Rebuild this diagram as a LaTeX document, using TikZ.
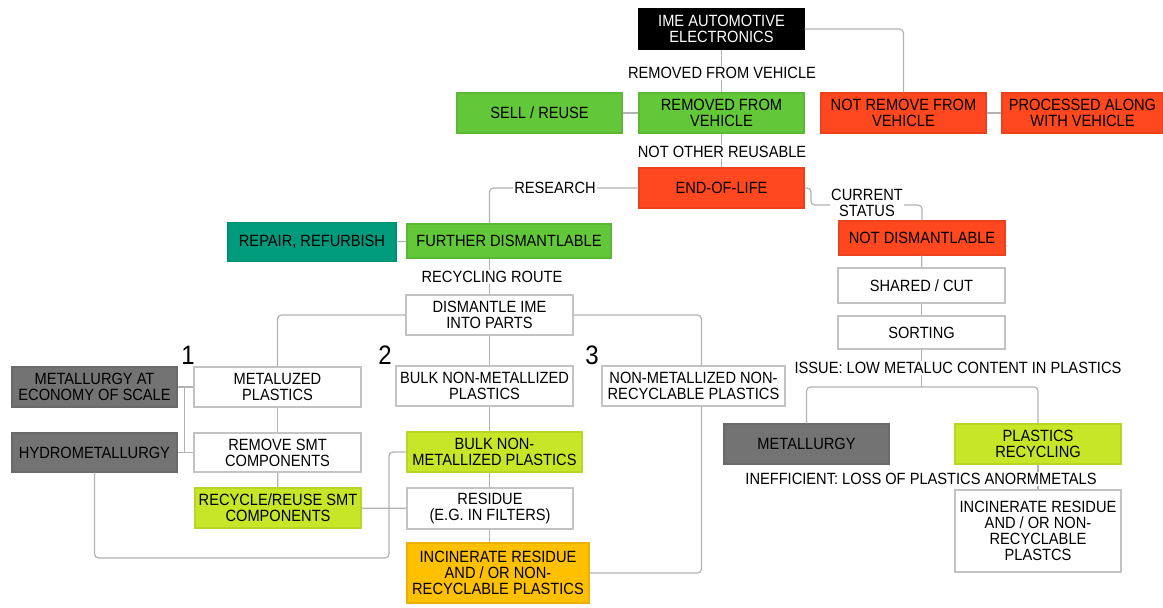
\documentclass[tikz,border=0pt]{standalone}
\usepackage{fontspec}
\setmainfont{Liberation Sans}[FakeStretch=0.9]
\usepackage{tikz}
\usepackage{xcolor}
\usetikzlibrary{positioning}
\definecolor{leaf}{RGB}{98,200,58}
\definecolor{flame}{RGB}{255,72,32}
\definecolor{teal}{RGB}{0,155,125}
\definecolor{slate}{RGB}{115,115,115}
\definecolor{lime}{RGB}{200,230,40}
\definecolor{amber}{RGB}{255,192,0}
\definecolor{wire}{RGB}{178,178,178}
\definecolor{rim}{RGB}{195,195,195}

\tikzset{
  box/.style={draw=rim, line width=0.8pt, fill=white, align=center, inner sep=1pt,
    font=\fontsize{12.2}{12}\selectfont},
  sz/.style 2 args={minimum width=#1*0.75pt, minimum height=#2*0.75pt},
  link/.style={draw=wire, line width=0.9pt, rounded corners=3pt},
  tag/.style={fill=white, inner sep=1pt, align=center, font=\fontsize{12.2}{12}\selectfont},
  num/.style={inner sep=0pt, font=\fontsize{20}{20}\selectfont}
}

\begin{document}
\begin{tikzpicture}[x=0.75pt, y=-0.75pt]
\useasboundingbox (0,0) rectangle (1163,607);

% top of the tree
\node[box, sz={165}{40}, fill=black, draw=black, text=white] (ime) at (721.5,29) {IME AUTOMOTIVE\\ELECTRONICS};
\node[box, sz={165}{40}, fill=leaf, draw=leaf!92!black] (sell) at (539.5,113) {SELL / REUSE};
\node[box, sz={165}{40}, fill=leaf, draw=leaf!92!black] (removed) at (721.5,113) {REMOVED FROM\\VEHICLE};
\node[box, sz={165}{40}, fill=flame, draw=flame!92!black] (notremove) at (903.5,113) {NOT REMOVE FROM\\VEHICLE};
\node[box, sz={161}{40}, fill=flame, draw=flame!92!black] (processed) at (1082.5,113) {PROCESSED ALONG\\WITH VEHICLE};
\node[box, sz={165}{40}, fill=flame, draw=flame!92!black] (eol) at (721.5,188) {END-OF-LIFE};

% research branch
\node[box, sz={168}{39}, fill=teal, draw=teal!92!black] (repair) at (312,242) {REPAIR, REFURBISH};
\node[box, sz={204}{34}, fill=leaf, draw=leaf!92!black] (further) at (509,241) {FURTHER DISMANTLABLE};
\node[box, sz={167}{40}] (dismantle) at (489.5,315) {DISMANTLE IME\\INTO PARTS};

\node[box, sz={165}{40}, fill=slate, draw=slate!92!black] (econ) at (94.5,387) {METALLURGY AT\\ECONOMY OF SCALE};
\node[box, sz={167}{40}] (metaluzed) at (277.5,387) {METALUZED\\PLASTICS};
\node[box, sz={177}{40}] (bulk) at (484.5,386) {BULK NON-METALLIZED\\PLASTICS};
\node[box, sz={183}{40}] (nonrec) at (693.5,386) {NON-METALLIZED NON-\\RECYCLABLE PLASTICS};
\node[box, sz={165}{39}, fill=slate, draw=slate!92!black] (hydro) at (94.5,452.5) {HYDROMETALLURGY};
\node[box, sz={167}{39}] (removesmt) at (277.5,452.5) {REMOVE SMT\\COMPONENTS};
\node[box, sz={175}{40}, fill=lime, draw=lime!92!black] (bulkg) at (494.5,452) {BULK NON-\\METALLIZED PLASTICS};
\node[box, sz={166}{40}, fill=lime, draw=lime!92!black] (smt) at (278,508) {RECYCLE/REUSE SMT\\COMPONENTS};
\node[box, sz={166}{41}] (residue) at (490,508.5) {RESIDUE\\(E.G. IN FILTERS)};
\node[box, sz={182}{60}, fill=amber, draw=amber!92!black] (incin) at (498,573) {INCINERATE RESIDUE\\AND / OR NON-\\RECYCLABLE PLASTICS};

\node[num] (one) at (188,355) {1};
\node[num] (two) at (385,355) {2};
\node[num] (three) at (592,355) {3};

% current status branch
\node[box, sz={166}{34}, fill=flame, draw=flame!92!black] (notdis) at (922,238) {NOT DISMANTLABLE};
\node[box, sz={167}{35}] (shared) at (921.5,285.5) {SHARED / CUT};
\node[box, sz={167}{33}] (sorting) at (921.5,332.5) {SORTING};
\node[box, sz={165}{40}, fill=slate, draw=slate!92!black] (metallurgy) at (806.5,444) {METALLURGY};
\node[box, sz={166}{40}, fill=lime, draw=lime!92!black] (plastics) at (1038,444) {PLASTICS\\RECYCLING};
\node[box, sz={166}{82}] (incinr) at (1038,531) {INCINERATE RESIDUE\\AND / OR NON-\\RECYCLABLE\\PLASTCS};

\coordinate (cs) at (811,205);
\coordinate (split) at (921.5,387);
\coordinate (turn) at (389,558);

% connectors
\draw[link] (ime) -- (removed);
\draw[link] (ime.east) -| (notremove.north);
\draw[link] (removed) -- (sell);
\draw[link] (notremove) -- (processed);
\draw[link] (removed) -- (eol);
\draw[link] (eol.west) -| (dismantle.north |- further.north);
\draw[link] (further) -- (repair);
\draw[link] (dismantle.north |- further.south) -- (dismantle.north);
\draw[link] (dismantle.west) -| (metaluzed.north);
\draw[link] (dismantle.south) -- (dismantle.south |- bulk.north);
\draw[link] (dismantle.east) -| ([xshift=6pt]nonrec.north);
\draw[link] (metaluzed) -- (econ);
\draw[link] (removesmt) -- (hydro);
\draw[link] ([xshift=5pt]econ.east) -- ([xshift=5pt]hydro.east);
\draw[link] (metaluzed) -- (removesmt);
\draw[link] (removesmt) -- (smt);
\draw[link] (hydro.south) |- (turn) |- (bulkg.west);
\draw[link] (smt) -- (residue);
\draw[link] (dismantle.south |- bulk.south) -- (dismantle.south |- bulkg.north);
\draw[link] (dismantle.south |- bulkg.south) -- (dismantle.south |- residue.north);
\draw[link] (dismantle.south |- residue.south) -- (dismantle.south |- incin.north);
\draw[link] ([xshift=6pt]nonrec.south) |- (incin.east);
\draw[link] (eol.east) -| (cs) -| (notdis.north);
\draw[link] (notdis) -- (shared);
\draw[link] (shared) -- (sorting);
\draw[link] (sorting.south) -- (split);
\draw[link] (split) -| (metallurgy.north);
\draw[link] (split) -| (plastics.north);
\draw[link] (plastics) -- (incinr);

% labels on the lines
\node[tag] (tremoved) at (722,73) {REMOVED FROM VEHICLE};
\node[tag] (tnotother) at (722,152) {NOT OTHER REUSABLE};
\node[tag] (tresearch) at (555,188) {RESEARCH};
\node[tag] (tcurrent) at (867,203) {CURRENT\\STATUS};
\node[tag] (troute) at (492,277) {RECYCLING ROUTE};
\node[tag] (tissue) at (958,368) {ISSUE: LOW METALUC CONTENT IN PLASTICS};
\node[tag] (tineff) at (921,479) {INEFFICIENT: LOSS OF PLASTICS ANORMMETALS};
\end{tikzpicture}
\end{document}
